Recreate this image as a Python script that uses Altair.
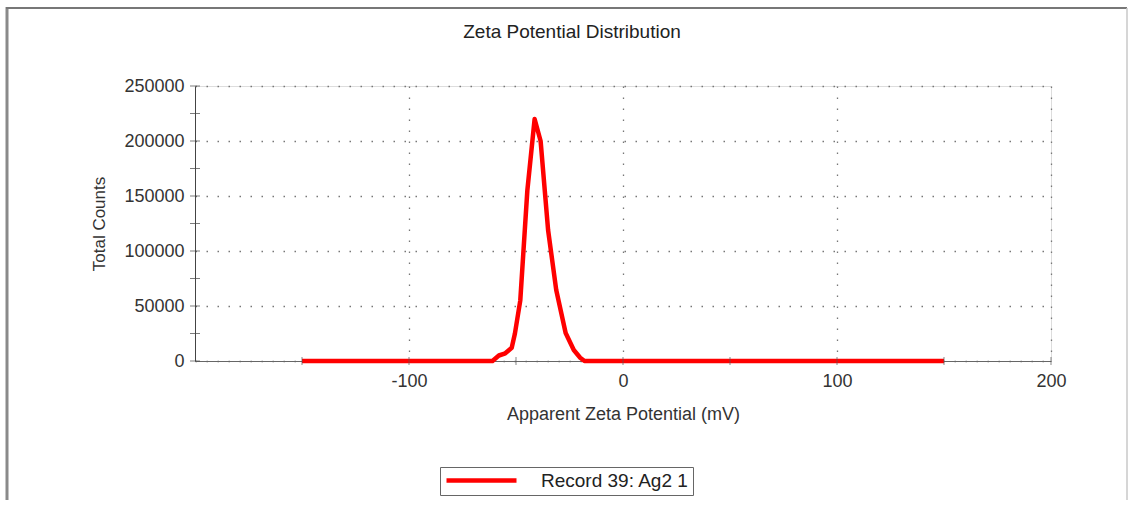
import altair as alt
import pandas as pd

# Data
zeta_mv = [-150, -61, -58, -55, -52, -50.5, -48, -44.7, -41.3, -38.5, -35, -31.2, -26.8, -23, -20, -18, 150]
counts = [0, 0, 5000, 7000, 12000, 25000, 55000, 155000, 220000, 200000, 119000, 64500, 25500, 10000, 3000, 0, 0]
series_name = "Record 39: Ag2 1"

x_ticks_major = [-100, 0, 100, 200]
x_ticks_all = [-150, -100, -50, 0, 50, 100, 150, 200]
y_ticks_major = [0, 50000, 100000, 150000, 200000, 250000]
y_ticks_all = [0, 25000, 50000, 75000, 100000, 125000, 150000, 175000, 200000, 225000, 250000]

FONT = "Liberation Sans"
W, H = 856, 275

df = pd.DataFrame({"zeta": zeta_mv, "counts": counts, "series": [series_name] * len(zeta_mv)})
xt = pd.DataFrame({"v": x_ticks_all, "y0": [0] * len(x_ticks_all)})
yt = pd.DataFrame({"v": y_ticks_all, "x0": [-200] * len(y_ticks_all)})
one = pd.DataFrame({"a": [0]})

xscale = alt.Scale(domain=[-200, 200], nice=False, zero=False)
yscale = alt.Scale(domain=[0, 250000], nice=False)

xaxis = alt.Axis(values=x_ticks_major, grid=True, gridDash=[1.5, 9.5], gridColor="#777", gridWidth=1.3,
                 ticks=False, domainColor="#666", labelFont=FONT, labelFontSize=18, labelColor="#333",
                 labelPadding=11, labelExpr="'' + datum.value", labelFlush=False,
                 titleFont=FONT, titleFontSize=18, titleFontWeight="normal",
                 titleColor="#333", titlePadding=15, zindex=0)
yaxis = alt.Axis(values=y_ticks_major, grid=True, gridDash=[1.5, 9.5], gridColor="#777",
                 gridWidth=1.3, ticks=False, domainColor="#444", labelFont=FONT, labelFontSize=18,
                 labelColor="#333", labelPadding=11, labelExpr="'' + datum.value", labelFlush=False,
                 titleFont=FONT, titleFontSize=17,
                 titleFontWeight="normal", titleColor="#333", titlePadding=15, zindex=0)

line = alt.Chart(df).mark_line(strokeWidth=4.5, strokeJoin="round", strokeCap="butt").encode(
    x=alt.X("zeta:Q", scale=xscale, axis=xaxis, title="Apparent Zeta Potential (mV)"),
    y=alt.Y("counts:Q", scale=yscale, axis=yaxis, title="Total Counts"),
    color=alt.Color("series:N", scale=alt.Scale(range=["#ff0000"]),
                    legend=alt.Legend(title=None, orient="none", legendX=245, legendY=381,
                                      direction="horizontal", symbolType="M-1,0H9", symbolSize=196,
                                      symbolStrokeWidth=4.5, symbolFillColor="#ff0000",
                                      strokeColor="#666", padding=4,
                                      labelFont=FONT, labelFontSize=19, labelColor="#222",
                                      labelOffset=78)),
)

xtick = alt.Chart(xt).mark_tick(orient="vertical", size=8, thickness=1, color="#555").encode(
    x=alt.X("v:Q", scale=xscale), y=alt.Y("y0:Q", scale=yscale))
ytick = alt.Chart(yt).mark_tick(orient="horizontal", size=10, thickness=1, color="#444").encode(
    y=alt.Y("v:Q", scale=yscale), x=alt.X("x0:Q", scale=xscale))

frame_left = alt.Chart(one).mark_rule(color="#8a8a8a", strokeWidth=3).encode(
    x=alt.value(-188), y=alt.value(-79), y2=alt.value(420))
frame_top = alt.Chart(one).mark_rule(color="#777", strokeWidth=2).encode(
    x=alt.value(-189), x2=alt.value(932), y=alt.value(-78))
frame_right = alt.Chart(one).mark_rule(color="#c8c8c8", strokeWidth=1.5).encode(
    x=alt.value(932), y=alt.value(-78), y2=alt.value(420))

chart = alt.layer(frame_left, frame_top, frame_right, line, xtick, ytick).properties(
    width=W, height=H,
    title=alt.TitleParams("Zeta Potential Distribution", font=FONT, fontSize=19, fontWeight="normal",
                          color="#222", anchor="middle", frame="group", dx=-51, offset=0,
                          baseline="alphabetic", dy=51),
    autosize=alt.AutoSizeParams(type="none"),
    padding={"left": 195, "top": 86, "right": 82, "bottom": 139},
).configure_view(stroke=None).configure(background="white")

chart.save("out.html", embed_options={"renderer": "svg", "actions": False})
